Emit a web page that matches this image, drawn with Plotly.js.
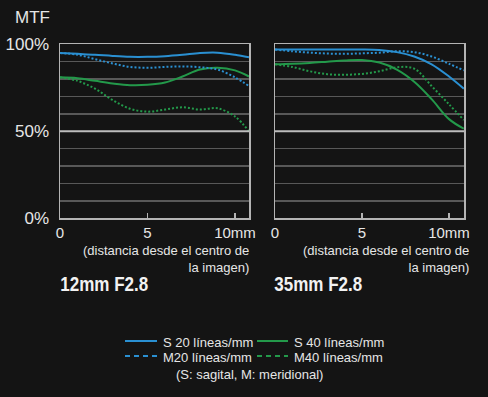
<!DOCTYPE html>
<html>
<head>
<meta charset="utf-8">
<script src="https://cdn.plot.ly/plotly-3.0.1.min.js"></script>
<style>html,body{margin:0;padding:0;background:#141414;}#chart{width:488px;height:397px;}</style>
</head>
<body>
<div id="chart"></div>
<script>
// Distance from image centre (mm)
const dist12 = [0, 1, 2, 3, 4, 5, 6, 7, 8, 9, 10, 10.8];
const dist35 = [0, 1, 2, 3, 4, 5, 6, 7, 8, 9, 10, 10.85];

// 12mm F2.8 MTF (%)
const s20_12 = [95, 94.5, 94, 93.3, 92.8, 92.8, 93.2, 94, 95, 95.2, 94, 92.5];
const m20_12 = [95, 94, 91.5, 89, 87, 86.5, 87, 87.3, 86.8, 85.5, 81, 76];
const s40_12 = [81, 80.5, 79, 77.5, 76.5, 76.7, 78, 81.5, 85.5, 86.5, 85, 81.5];
const m40_12 = [81, 79, 74.5, 68, 63, 61.3, 62.5, 63.8, 62.5, 63.2, 58.5, 50];

// 35mm F2.8 MTF (%)
const s20_35 = [97, 97, 97, 97, 97, 97, 96.7, 95.5, 93, 88.5, 81.5, 74.5];
const m20_35 = [97, 96, 95.2, 94.7, 94.5, 94.8, 95.2, 96, 95.5, 93, 88.8, 85];
const s40_35 = [88.5, 88.8, 89.3, 90, 90.7, 91, 89.5, 85.5, 78.5, 68.5, 57, 51.5];
const m40_35 = [88.5, 87, 84.5, 82.8, 82.5, 83, 84.5, 86.8, 86, 76, 65.5, 56.5];

const yTicks = [0, 10, 20, 30, 40, 50, 60, 70, 80, 90, 100];
const yTickText = ['0%', '', '', '', '', '50%', '', '', '', '', '100%'];
const xTicks = [0, 5, 10];
const xTickText = ['0', '5', '10mm'];

const legendNames = ['S 20 líneas/mm', 'S 40 líneas/mm', 'M20 líneas/mm', 'M40 líneas/mm'];
const legendNote = '(S: sagital, M: meridional)';
const panelTitles = ['12mm F2.8', '35mm F2.8'];
const axisNote = '(distancia desde el centro de<br>la imagen)';

const BLUE = '#2a90d2';
const GREEN = '#23994a';
const DOT = '2px,2px';
const W = 488, H = 397;
const px = v => v / W;
const py = v => 1 - v / H;

function tr(x, y, color, dash, xa, ya) {
  return {x: x, y: y, type: 'scatter', mode: 'lines', xaxis: xa, yaxis: ya,
    line: {color: color, width: 2, dash: dash, shape: 'spline', smoothing: 1}, hoverinfo: 'skip', showlegend: false};
}

const data = [
  tr(dist12, m40_12, GREEN, DOT, 'x', 'y'),
  tr(dist12, s40_12, GREEN, 'solid', 'x', 'y'),
  tr(dist12, m20_12, BLUE, DOT, 'x', 'y'),
  tr(dist12, s20_12, BLUE, 'solid', 'x', 'y'),
  tr(dist35, m40_35, GREEN, DOT, 'x2', 'y2'),
  tr(dist35, s40_35, GREEN, 'solid', 'x2', 'y2'),
  tr(dist35, m20_35, BLUE, DOT, 'x2', 'y2'),
  tr(dist35, s20_35, BLUE, 'solid', 'x2', 'y2')
];

const textFont = {family: 'Liberation Sans, Arial, sans-serif', color: '#e6e6e6'};
const yDom = [py(218.3), py(44.3)];

function xax(dom, max) {
  return {domain: dom, range: [0, max], showgrid: false, zeroline: false,
    showline: true, mirror: true, linecolor: '#b4b4b4', linewidth: 1.5,
    ticks: 'inside', ticklen: 5, tickwidth: 1.5, tickcolor: '#b4b4b4',
    tickvals: xTicks, ticktext: xTickText,
    tickfont: Object.assign({size: 15}, textFont), fixedrange: true};
}
function yax(dom, anchor, labels) {
  return {domain: dom, range: [0, 100], anchor: anchor, showgrid: true, gridcolor: '#585858', gridwidth: 1.5,
    zeroline: false, showline: true, mirror: true, linecolor: '#b4b4b4', linewidth: 1.5,
    tickvals: yTicks, ticktext: yTickText, showticklabels: labels, ticks: '',
    ticklabelstandoff: 6,
    tickfont: Object.assign({size: 17}, textFont), fixedrange: true};
}

const shapes = [
  {type: 'line', xref: 'x domain', yref: 'y', x0: 0, x1: 1, y0: 50, y1: 50, line: {color: '#bcbcbc', width: 2}},
  {type: 'line', xref: 'x2 domain', yref: 'y2', x0: 0, x1: 1, y0: 50, y1: 50, line: {color: '#bcbcbc', width: 2}},
  // legend samples
  {type: 'line', xref: 'paper', yref: 'paper', x0: px(125), x1: px(157), y0: py(341), y1: py(341), line: {color: BLUE, width: 2}},
  {type: 'line', xref: 'paper', yref: 'paper', x0: px(257), x1: px(288), y0: py(341), y1: py(341), line: {color: GREEN, width: 2}},
  {type: 'line', xref: 'paper', yref: 'paper', x0: px(125), x1: px(157), y0: py(356), y1: py(356), line: {color: BLUE, width: 2, dash: '5px,4px'}},
  {type: 'line', xref: 'paper', yref: 'paper', x0: px(257), x1: px(288), y0: py(356), y1: py(356), line: {color: GREEN, width: 2, dash: '5px,4px'}}
];

function ann(text, x, y, size, xanchor, extra) {
  return Object.assign({text: text, xref: 'paper', yref: 'paper', x: px(x), y: py(y), xanchor: xanchor, yanchor: 'middle',
    showarrow: false, font: Object.assign({size: size}, textFont)}, extra || {});
}
const titleFont = {family: 'Liberation Sans, Arial, sans-serif', size: 21, color: '#f2f2f2', weight: 700};
const TITLE_W = 88;

const annotations = [
  ann('MTF', 13, 18, 17, 'left'),
  ann(axisNote, 251, 259, 13, 'right', {align: 'right'}),
  ann(axisNote, 471, 259, 13, 'right', {align: 'right'}),
  ann(panelTitles[0], 60 + TITLE_W / 2, 283, 21, 'center', {font: titleFont}),
  ann(panelTitles[1], 274 + TITLE_W / 2, 283, 21, 'center', {font: titleFont}),
  ann(legendNames[0], 161, 342, 13, 'left'),
  ann(legendNames[1], 292, 342, 13, 'left'),
  ann(legendNames[2], 161, 357, 13, 'left'),
  ann(legendNames[3], 292, 357, 13, 'left'),
  ann(legendNote, 250, 374, 13, 'center')
];

const layout = {
  width: W, height: H, margin: {l: 0, r: 0, t: 0, b: 0},
  paper_bgcolor: '#141414', plot_bgcolor: '#141414',
  showlegend: false,
  xaxis: Object.assign(xax([px(60), px(249)], 10.8), {anchor: 'y'}),
  yaxis: yax(yDom, 'x', true),
  xaxis2: Object.assign(xax([px(275), px(464)], 10.86), {anchor: 'y2'}),
  yaxis2: yax(yDom, 'x2', false),
  shapes: shapes,
  annotations: annotations
};

Plotly.newPlot('chart', data, layout, {displayModeBar: false, staticPlot: true}).then(function (gd) {
  // condense the bold panel titles to match the narrow typeface of the original
  gd.querySelectorAll('.annotation-text').forEach(function (t) {
    if (panelTitles.indexOf(t.textContent) >= 0) {
      t.setAttribute('textLength', String(TITLE_W));
      t.setAttribute('lengthAdjust', 'spacingAndGlyphs');
    }
  });
});
</script>
</body>
</html>
